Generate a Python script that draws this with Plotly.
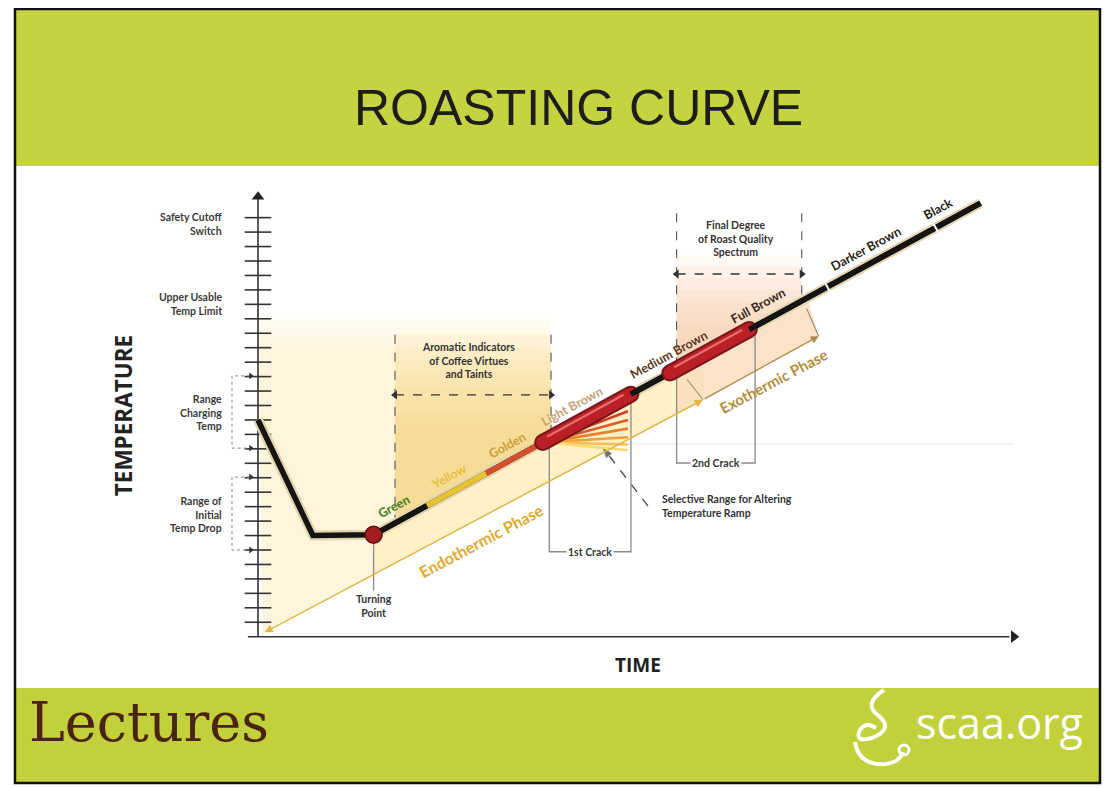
import numpy as np
import plotly.graph_objects as go

PAGE_W, PAGE_H = 1115, 788
OFF = 8                      # body margin of the html page
W, H = PAGE_W - OFF, PAGE_H - OFF
UNIT = 14.45                 # pixels per axis unit (same on both axes)
ORIGIN_X, ORIGIN_Y = 258, 636.7   # page pixel position of the axes origin

# ---------------- data (time / temperature in axis-tick units) ----------------
curve_time = [0.0, 3.8, 8.0, 50.0]
curve_temp = [15.0, 7.0, 7.05, 30.0]

stage_time = [8.0, 11.7, 15.8, 19.7, 25.8, 28.5, 34.0, 39.4, 46.9, 50.0]
stage_temp = [7.05, 9.07, 11.31, 13.44, 16.78, 18.25, 21.26, 24.21, 28.30, 30.0]
stage_kind = ["line", "line", "line", "capsule", "line", "capsule", "line", "line", "line"]
stage_color = ["#141414", "#e8c42e", "#d4502b", "#bb2027", "#141414", "#bb2027", "#141414", "#141414", "#141414"]

stage_names = ["Green", "Yellow", "Golden", "Light Brown", "Medium Brown", "Full Brown", "Darker Brown", "Black"]
stage_label_time = [9.9, 13.7, 17.7, 22.3, 29.0, 35.2, 42.6, 47.6]
stage_label_offset = [15, 15, 15, 18, 16, 17, 15, 15]
stage_label_color = ["#3e7a1e", "#e2c03c", "#c99d3a", "#c4a173", "#5a3a1c", "#3a2a1a", "#2a1e14", "#1a1a1a"]

temp_ticks = list(range(1, 30))
side_labels = ["Safety Cutoff<br>Switch", "Upper Usable<br>Temp Limit",
               "Range<br>Charging<br>Temp", "Range of<br>Initial<br>Temp Drop"]
side_label_temp = [28.55, 23.05, 15.5, 8.45]
charging_range = [13.05, 18.05]
drop_range = [6.0, 11.05]

turning_time, turning_temp = 8.0, 7.05

endo_time = [0.35, 30.8]
endo_temp = [0.25, 16.4]
exo_time = [30.8, 38.8]
exo_temp = [16.4, 20.8]
exo_tick_time = [[29.7, 30.8], [37.97, 38.8]]
exo_tick_temp = [[17.8, 16.4], [22.7, 20.8]]

aroma_window = [9.48, 20.28]
aroma_top, aroma_arrow = 20.9, 16.73
final_window = [28.97, 37.63]
final_top, final_arrow = 29.3, 25.1
crack1_window = [20.16, 25.81]
crack1_level = 5.88
crack2_window = [28.97, 34.4]
crack2_level = 12.02

fan_origin = [19.9, 13.45]
fan_end_time = 25.6
fan_end_temp = [15.6, 15.0, 14.4, 13.8, 13.3, 12.9]
fan_colors = ["#d63b26", "#e35a2a", "#ec7f2e", "#f3a03a", "#f7bf52", "#fad874"]

selective_time = [26.99, 23.88]
selective_temp = [9.04, 13.06]

# ---------------- helpers ----------------
rise_t = curve_time[2:]
rise_T = curve_temp[2:]


def on_curve(t):
    return float(np.interp(t, curve_time, curve_temp))


def t_at_temp(T):
    return float(np.interp(T, rise_T, rise_t))


def endo_at(t):
    return float(np.interp(t, endo_time, endo_temp))


ANG = np.degrees(np.arctan((rise_T[1] - rise_T[0]) / (rise_t[1] - rise_t[0])))
SIN, COS = np.sin(np.radians(ANG)), np.cos(np.radians(ANG))

xr = [(OFF - ORIGIN_X) / UNIT, (PAGE_W - ORIGIN_X) / UNIT]
yr = [-(PAGE_H - ORIGIN_Y) / UNIT, (ORIGIN_Y - OFF) / UNIT]

fig = go.Figure()


def poly(xs, ys, color):
    fig.add_trace(go.Scatter(x=xs, y=ys, fill="toself", fillcolor=color, mode="lines",
                             line=dict(width=0), hoverinfo="skip", showlegend=False))


def line(xs, ys, color, width, dash=None, mode="lines", **kw):
    fig.add_trace(go.Scatter(x=xs, y=ys, mode=mode, line=dict(color=color, width=width, dash=dash),
                             hoverinfo="skip", showlegend=False, **kw))


# ---------------- shaded zones ----------------
for top in [22.4, 21.9, 21.4, 20.9, 20.4, 19.9]:
    poly([0, endo_time[0], exo_time[0], exo_time[1], 38.0, aroma_window[1], aroma_window[1], 0],
         [top, endo_temp[0], exo_temp[0], exo_temp[1], on_curve(38.0), on_curve(aroma_window[1]), top, top],
         "rgba(253,240,200,0.14)")

# band between curve and endothermic line
poly([turning_time, 30.8, 30.8, turning_time],
     [on_curve(turning_time), on_curve(30.8), endo_at(30.8), endo_at(turning_time)],
     "rgba(252,230,150,0.28)")

# aromatic zone gradient
a0, a1 = aroma_window
for top in [20.9, 20.0, 19.1, 18.2, 17.3, 16.4, 15.5, 14.6]:
    poly([a0, a1, a1, a0], [on_curve(a0), on_curve(a1), top, top], "rgba(250,203,110,0.10)")

# final degree zone gradient (above curve)
f0, f1 = final_window
for top in [26.4, 25.6, 24.8, 24.0, 23.2, 22.4, 21.6]:
    tl = min(f1, t_at_temp(top))
    poly([f0, tl, tl, f0], [on_curve(f0), on_curve(tl), top, top], "rgba(244,182,142,0.10)")
# final degree zone below curve
poly([f0, 38.0, exo_time[1], exo_time[0], f0],
     [on_curve(f0), on_curve(38.0), exo_temp[1], exo_temp[0], endo_at(f0)],
     "rgba(246,205,175,0.45)")

# faint horizontal guide
line([20.5, 52.3], [13.33, 13.33], "#ececec", 1.2)

# ---------------- dashed windows ----------------
DASHC = "#555555"
for t in aroma_window:
    line([t, t], [aroma_top, on_curve(t)], DASHC, 1.1, dash="dash")
line(aroma_window, [aroma_arrow] * 2, "#333333", 1.3, dash="dash")
line(aroma_window, [aroma_arrow] * 2, "#333333", 0, mode="markers",
     marker=dict(symbol=["triangle-left", "triangle-right"], size=8, color="#333333"))

line([f0, f0], [final_top, on_curve(f0)], DASHC, 1.1, dash="dash")
line([f1, f1], [final_top, on_curve(f1)], DASHC, 1.1, dash="dash")
line(final_window, [final_arrow] * 2, "#333333", 1.3, dash="dash")
line(final_window, [final_arrow] * 2, "#333333", 0, mode="markers",
     marker=dict(symbol=["triangle-left", "triangle-right"], size=8, color="#333333"))

# crack brackets
BRC = "#8a8a8a"
for win, lvl in [(crack1_window, crack1_level), (crack2_window, crack2_level)]:
    line([win[0], win[0], win[1], win[1]], [on_curve(win[0]) - 0.5, lvl, lvl, on_curve(win[1]) - 0.5], BRC, 1.3)

# turning point drop line
line([turning_time, turning_time], [6.4, 3.2], BRC, 1.3)

# selective arrow
line(selective_time, selective_temp, "#444444", 1.3, dash="dash")
line(selective_time, selective_temp, "#444444", 0, mode="markers",
     marker=dict(symbol="arrow", angleref="previous", size=[0, 10], color="#333333"))

# ---------------- axes ----------------
AXC = "#333333"
line([-0.7, 52.0], [0, 0], AXC, 1.6)
line([0, 0], [0, 30.4], AXC, 1.6)
line([0] * len(temp_ticks), temp_ticks, AXC, 0, mode="markers",
     marker=dict(symbol="line-ew", size=19, line=dict(color=AXC, width=1.6)))
line([0], [30.45], AXC, 0, mode="markers", marker=dict(symbol="triangle-up", size=11, color="#222"))
line([52.3], [0], AXC, 0, mode="markers", marker=dict(symbol="triangle-right", size=11, color="#222"))

# side range brackets
bx = -1.8
for rng in [charging_range, drop_range]:
    line([-0.55, bx, bx, -0.55], [rng[1], rng[1], rng[0], rng[0]], "#888888", 1.0, dash="dot")
    line([-0.5, -0.5], rng, "#333", 0, mode="markers",
         marker=dict(symbol="triangle-right", size=6, color="#333"))

# ---------------- curve ----------------
line(curve_time, curve_temp, "#e3d4ad", 10)
line(curve_time, curve_temp, "#141414", 5.5)

# fan under light brown capsule
for T_end, c in zip(fan_end_temp, fan_colors):
    line([fan_origin[0], fan_end_time], [fan_origin[1], T_end], c, 2.6)

for i, kind in enumerate(stage_kind):
    t0, t1 = stage_time[i], stage_time[i + 1]
    T0, T1 = stage_temp[i], stage_temp[i + 1]
    if kind == "line":
        line([t0, t1], [T0, T1], stage_color[i], 5.5)
    else:
        line([t0, t1], [T0, T1], "#74161a", 17, mode="lines+markers",
             marker=dict(size=17, color="#74161a", line=dict(width=0)))
        line([t0, t1], [T0, T1], stage_color[i], 13, mode="lines+markers",
             marker=dict(size=13, color=stage_color[i], line=dict(width=0)))
        off = 3.0 / UNIT
        line([t0 + 0.4 - off * SIN, t1 - 0.4 - off * SIN],
             [T0 + 0.4 * 0.546 + off * COS, T1 - 0.4 * 0.546 + off * COS], "#e46d6d", 2.2)

# dividers between darker stages
line(stage_time[7:9], stage_temp[7:9], "white", 0, mode="markers",
     marker=dict(symbol="line-ns", size=7, angle=-ANG, line=dict(color="white", width=2)))

# turning point
line([turning_time], [turning_temp], "#000", 0, mode="markers",
     marker=dict(size=17, color="#a11d1f", line=dict(color="#5a0d0e", width=1.5)))

# ---------------- invisible full-canvas pixel axes (page pixel coordinates) ----------------
fig.add_trace(go.Scatter(x=[100], y=[100], xaxis="x2", yaxis="y2", mode="markers",
                         marker=dict(size=0.1, color="rgba(0,0,0,0)"), hoverinfo="skip", showlegend=False))

shapes = [
    dict(type="rect", xref="x2", yref="y2", x0=16, x1=1099, y0=9, y1=166, fillcolor="#c4d33f", line=dict(width=0), layer="below"),
    dict(type="rect", xref="x2", yref="y2", x0=16, x1=1099, y0=688, y1=782, fillcolor="#c1d03b", line=dict(width=0), layer="below"),
    dict(type="rect", xref="x2", yref="y2", x0=15, x1=1100, y0=9, y1=783, fillcolor="rgba(0,0,0,0)", line=dict(color="#111", width=2.5)),
    # logo swirl
    dict(type="path", xref="x2", yref="y2", line=dict(color="white", width=4),
         path="M 884 690 Q 862 704 879 716 Q 894 729 872 738 Q 854 743 860 730 Q 866 721 876 728"),
    dict(type="path", xref="x2", yref="y2", line=dict(color="white", width=4),
         path="M 855 742 Q 859 766 886 764 Q 900 762 903 752"),
    dict(type="circle", xref="x2", yref="y2", x0=899, x1=909, y0=745, y1=755, line=dict(color="white", width=3)),
]

ann = []


def txt(x, y, text, size=11, color="#3a3a3a", ref=("x", "y"), angle=0, align="center", xanchor="center",
        family="Lato", bold=True, bg=None, xshift=0, yshift=0):
    d = dict(x=x, y=y, xref=ref[0], yref=ref[1], text=("<b>%s</b>" % text) if bold else text,
             showarrow=False, textangle=angle, align=align, xanchor=xanchor, yanchor="middle",
             font=dict(family=family, size=size, color=color), xshift=xshift, yshift=yshift)
    if bg:
        d["bgcolor"] = bg
        d["borderpad"] = 1
    ann.append(d)


# title and footer
txt(578, 108, "ROASTING CURVE", size=50, color="#1d1d1d", ref=("x2", "y2"), family="Liberation Sans", bold=False)
txt(27, 722, "Lectures", size=54, color="#4a2410", ref=("x2", "y2"), family="DejaVu Serif", bold=False, xanchor="left")
txt(999, 722, "scaa.org", size=43, color="white", ref=("x2", "y2"), family="Open Sans", bold=False)

# axis titles
txt(-9.3, 15.3, "TEMPERATURE", size=22.5, color="#222", angle=-90, family="Open Sans")
txt(26.3, -1.95, "TIME", size=19, color="#222", family="Open Sans")

# side labels
for s, T in zip(side_labels, side_label_temp):
    txt(-2.35, T, s, size=10.5, align="right", xanchor="right")

# window labels
txt(sum(aroma_window) / 2 - 0.3, 19.1, "Aromatic Indicators<br>of Coffee Virtues<br>and Taints", size=10.5, color="#333")
txt(sum(final_window) / 2 - 0.2, 27.55, "Final Degree<br>of Roast Quality<br>Spectrum", size=10.5, color="#333")
txt(sum(crack1_window) / 2, crack1_level, "1st Crack", size=10.5, color="#333", bg="white")
txt(sum(crack2_window) / 2, crack2_level, "2nd Crack", size=10.5, color="#333", bg="white")
txt(selective_time[0] + 0.85, selective_temp[0], "Selective Range for Altering<br>Temperature Ramp", size=10.5,
    color="#333", align="left", xanchor="left")
txt(turning_time, 2.1, "Turning<br>Point", size=10.5, color="#333")

# stage labels along curve
for name, t, c, o in zip(stage_names, stage_label_time, stage_label_color, stage_label_offset):
    txt(t, on_curve(t), name, size=12.5, color=c, angle=-ANG, xshift=-o * SIN, yshift=o * COS)

# phase arrows
ann.append(dict(x=endo_time[1], y=endo_temp[1], ax=endo_time[0], ay=endo_temp[0], xref="x", yref="y",
                axref="x", ayref="y", showarrow=True, arrowhead=2, arrowside="end+start", arrowsize=1.1,
                arrowwidth=1.5, arrowcolor="#e3b647", text=""))
ann.append(dict(x=exo_time[1], y=exo_temp[1], ax=exo_time[0], ay=exo_temp[0], xref="x", yref="y",
                axref="x", ayref="y", showarrow=True, arrowhead=2, arrowsize=1.1,
                arrowwidth=1.4, arrowcolor="#b08a45", text=""))
for tt, TT in zip(exo_tick_time, exo_tick_temp):
    line(tt, TT, "#9a8a6a", 1.1)

endo_ang = np.degrees(np.arctan((endo_temp[1] - endo_temp[0]) / (endo_time[1] - endo_time[0])))
es, ec = np.sin(np.radians(endo_ang)), np.cos(np.radians(endo_ang))
txt(14.8, endo_at(14.8), "Endothermic Phase", size=16, color="#e2a92c", angle=-endo_ang,
    xshift=20 * es, yshift=-20 * ec)
txt(35.1, float(np.interp(35.1, exo_time, exo_temp)), "Exothermic Phase", size=15, color="#b48c3c",
    angle=-endo_ang, xshift=18 * es, yshift=-18 * ec)

fig.update_layout(
    width=W, height=H, margin=dict(l=0, r=0, t=0, b=0), autosize=False,
    paper_bgcolor="white", plot_bgcolor="rgba(0,0,0,0)",
    xaxis=dict(range=xr, visible=False, fixedrange=True),
    yaxis=dict(range=yr, visible=False, fixedrange=True),
    xaxis2=dict(range=[OFF, PAGE_W], visible=False, overlaying="x", anchor="y2", fixedrange=True),
    yaxis2=dict(range=[PAGE_H, OFF], visible=False, overlaying="y", anchor="x2", fixedrange=True),
    shapes=shapes, annotations=ann, showlegend=False,
)

fig.write_html("out.html")
